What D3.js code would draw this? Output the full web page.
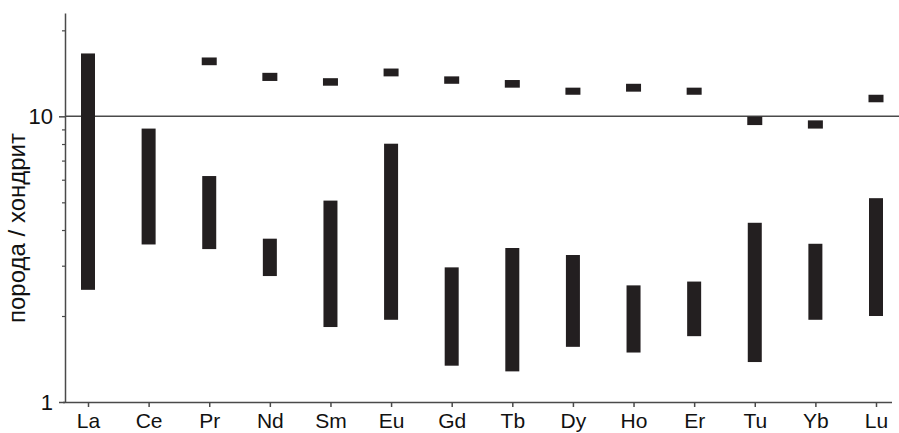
<!DOCTYPE html>
<html>
<head>
<meta charset="utf-8">
<script src="https://cdn.jsdelivr.net/npm/d3@7"></script>
<style>
  body { margin: 0; background: #fff; }
  svg { display: block; font-family: "Liberation Sans", Arial, sans-serif; }
</style>
</head>
<body>
<div id="viz"></div>
<script>
const width = 899;
const height = 433;
const margin = {top: 13, right: 7, bottom: 31, left: 65};

// REE elements on the x axis
const elements = ['La', 'Ce', 'Pr', 'Nd', 'Sm', 'Eu', 'Gd', 'Tb', 'Dy', 'Ho', 'Er', 'Tu', 'Yb', 'Lu'];
// range bars (rock / chondrite)
const rangeHigh = [16.6, 9.06, 6.18, 3.73, 5.07, 8.02, 2.96, 3.46, 3.27, 2.56, 2.64, 4.24, 3.58, 5.17];
const rangeLow  = [2.47, 3.56, 3.43, 2.76, 1.83, 1.94, 1.34, 1.28, 1.56, 1.49, 1.70, 1.38, 1.94, 2.00];
// short marks at the top
const markHigh = [null, null, 16.07, 14.2, 13.6, 14.7, 13.8, 13.4, 12.6, 13.0, 12.6, 9.98, 9.68, 11.9];
const markLow  = [null, null, 15.1, 13.3, 12.8, 13.8, 13.0, 12.6, 11.9, 12.2, 11.9, 9.32, 9.06, 11.2];

const majorTicks = [1, 10];
const minorTicks = [2, 3, 4, 5, 6, 7, 8, 9, 20];
const yMax = 23;

const barWidth = 14;
const barColor = '#231f20';
const axisColor = '#4a4a4a';

const svg = d3.select('#viz')
  .append('svg')
    .attr('width', width)
    .attr('height', height);

const scaleX = d3.scalePoint()
  .domain(elements)
  .range([88, 876]);

const scaleY = d3.scaleLog()
  .domain([1, yMax])
  .range([height - margin.bottom, margin.top]);

// reference line at 10
svg.append('line')
  .attr('x1', margin.left)
  .attr('x2', width)
  .attr('y1', scaleY(10))
  .attr('y2', scaleY(10))
  .attr('stroke', axisColor)
  .attr('stroke-width', 1.5);

// range bars
const rows = elements.map((el, i) => ({el, hi: rangeHigh[i], lo: rangeLow[i], mhi: markHigh[i], mlo: markLow[i]}));

svg.append('g')
  .selectAll('rect')
  .data(rows)
  .join('rect')
    .attr('x', d => scaleX(d.el) - barWidth / 2)
    .attr('y', d => scaleY(d.hi))
    .attr('width', barWidth)
    .attr('height', d => scaleY(d.lo) - scaleY(d.hi))
    .attr('fill', barColor);

svg.append('g')
  .selectAll('rect')
  .data(rows.filter(d => d.mhi != null))
  .join('rect')
    .attr('x', d => scaleX(d.el) - barWidth / 2 - 0.5)
    .attr('y', d => scaleY(d.mhi))
    .attr('width', barWidth + 1)
    .attr('height', d => scaleY(d.mlo) - scaleY(d.mhi))
    .attr('fill', barColor);

// x axis
const xAxis = svg.append('g')
  .attr('transform', `translate(0,${height - margin.bottom})`)
  .call(d3.axisBottom(scaleX).tickSize(5).tickSizeOuter(0).tickPadding(6));
xAxis.select('.domain').attr('d', `M${margin.left - 2},0.5H${width - margin.right}`);
xAxis.selectAll('line, path').attr('stroke', axisColor).attr('stroke-width', 1.5);
xAxis.selectAll('text')
  .attr('fill', '#111')
  .style('font-size', '21px');

// y axis: minor ticks
const yMinor = svg.append('g')
  .attr('transform', `translate(${margin.left},0)`)
  .call(d3.axisLeft(scaleY).tickValues(minorTicks).tickSize(3).tickFormat(''));
yMinor.select('.domain').remove();
yMinor.selectAll('line').attr('stroke', axisColor).attr('stroke-width', 1.2);

// y axis: major ticks with labels
const yAxis = svg.append('g')
  .attr('transform', `translate(${margin.left},0)`)
  .call(d3.axisLeft(scaleY).tickValues(majorTicks).tickSize(6).tickSizeOuter(0).tickPadding(6).tickFormat(d3.format('d')));
yAxis.selectAll('line, path').attr('stroke', axisColor).attr('stroke-width', 1.5);
yAxis.selectAll('text')
  .attr('fill', '#111')
  .style('font-size', '22px');

// y axis label
svg.append('text')
  .attr('transform', `translate(25, ${228}) rotate(-90)`)
  .attr('text-anchor', 'middle')
  .attr('fill', '#111')
  .style('font-size', '24px')
  .text('порода / хондрит');
</script>
</body>
</html>
